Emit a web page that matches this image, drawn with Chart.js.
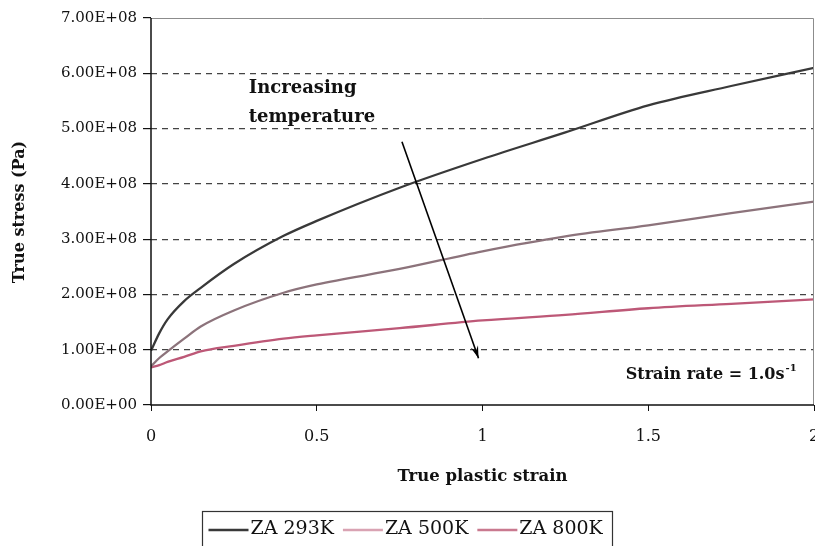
<!DOCTYPE html>
<html>
<head>
<meta charset="utf-8">
<script src="https://cdn.jsdelivr.net/npm/chart.js@4"></script>
<style>
  html, body { margin: 0; padding: 0; background: #fff; }
  canvas { display: block; }
</style>
</head>
<body>
<canvas id="grafico" width="815" height="546"></canvas>
<script>
// ===== DATOS =====
const deformacion = [0, 0.025, 0.05, 0.1, 0.15, 0.25, 0.4, 0.5, 0.75, 1.0, 1.25, 1.5, 1.75, 2.0];

const za293 = [0.98e8, 1.30e8, 1.55e8, 1.88e8, 2.12e8, 2.55e8, 3.06e8, 3.33e8, 3.93e8, 4.45e8, 4.93e8, 5.42e8, 5.77e8, 6.10e8];
const za500 = [0.70e8, 0.85e8, 0.97e8, 1.20e8, 1.42e8, 1.71e8, 2.03e8, 2.18e8, 2.46e8, 2.78e8, 3.05e8, 3.25e8, 3.47e8, 3.68e8];
const za800 = [0.68e8, 0.72e8, 0.78e8, 0.87e8, 0.97e8, 1.07e8, 1.20e8, 1.26e8, 1.39e8, 1.53e8, 1.63e8, 1.75e8, 1.83e8, 1.91e8];

const etiquetasSerie = ['ZA 293K', 'ZA 500K', 'ZA 800K'];
const coloresSerie = ['#393939', '#8c737b', '#bd5877'];
const coloresLeyenda = ['#393939', '#d9a3b3', '#c9798f'];

const ticksX = [0, 0.5, 1, 1.5, 2];
const ticksY = [0, 1e8, 2e8, 3e8, 4e8, 5e8, 6e8, 7e8];

// flecha "Increasing temperature" (en unidades de datos)
const flechaInicio = { x: 0.757, y: 4.76e8 };
const flechaFin = { x: 0.988, y: 0.845e8 };

const SERIF = '"DejaVu Serif", "Liberation Serif", serif';

// formato 7.00E+08
function formatoCientifico(v) {
    if (v === 0) return '0.00E+00';
    const exp = Math.floor(Math.log10(Math.abs(v)));
    const mant = v / Math.pow(10, exp);
    return mant.toFixed(2) + 'E+' + String(exp).padStart(2, '0');
}

function puntos(valores) {
    return deformacion.map((x, i) => ({ x: x, y: valores[i] }));
}

// ===== PLUGIN: marco, titulos, leyenda y anotaciones =====
const decoracion = {
    id: 'decoracion',
    beforeDraw(chart) {
        const ctx = chart.ctx;
        ctx.save();
        ctx.fillStyle = '#fff';
        ctx.fillRect(0, 0, chart.width, chart.height);
        ctx.restore();
    },
    afterDraw(chart) {
        const ctx = chart.ctx;
        const a = chart.chartArea;
        const sx = chart.scales.x;
        const sy = chart.scales.y;

        ctx.save();
        // marco superior y derecho
        ctx.strokeStyle = '#8c8c8c';
        ctx.lineWidth = 1;
        ctx.beginPath();
        ctx.moveTo(a.left, a.top + 0.5);
        ctx.lineTo(a.right - 0.5, a.top + 0.5);
        ctx.lineTo(a.right - 0.5, a.bottom);
        ctx.stroke();

        // ejes
        ctx.strokeStyle = '#111';
        ctx.lineWidth = 1.5;
        ctx.beginPath();
        ctx.moveTo(a.left, a.top);
        ctx.lineTo(a.left, a.bottom);
        ctx.lineTo(a.right, a.bottom);
        ctx.stroke();

        // titulo eje y
        ctx.fillStyle = '#111';
        ctx.font = 'bold 16px ' + SERIF;
        ctx.textAlign = 'center';
        ctx.textBaseline = 'middle';
        ctx.save();
        ctx.translate(20, 212);
        ctx.rotate(-Math.PI / 2);
        ctx.fillText('True stress (Pa)', 0, 0);
        ctx.restore();

        // titulo eje x
        ctx.font = 'bold 16.5px ' + SERIF;
        ctx.fillText('True plastic strain', (a.left + a.right) / 2, 477);

        // texto de anotaciones
        ctx.font = 'bold 18px ' + SERIF;
        ctx.textAlign = 'left';
        ctx.textBaseline = 'alphabetic';
        ctx.fillText('Increasing', sx.getPixelForValue(0.295), sy.getPixelForValue(5.64e8));
        ctx.fillText('temperature', sx.getPixelForValue(0.295), sy.getPixelForValue(5.12e8));

        ctx.font = 'bold 16px ' + SERIF;
        const txt = 'Strain rate = 1.0s';
        const xTxt = sx.getPixelForValue(1.432);
        const yTxt = sy.getPixelForValue(0.47e8);
        ctx.fillText(txt, xTxt, yTxt);
        const w = ctx.measureText(txt).width;
        ctx.font = 'bold 10px ' + SERIF;
        ctx.fillText('-1', xTxt + w + 1, yTxt - 8);

        // flecha
        const x1 = sx.getPixelForValue(flechaInicio.x), y1 = sy.getPixelForValue(flechaInicio.y);
        const x2 = sx.getPixelForValue(flechaFin.x), y2 = sy.getPixelForValue(flechaFin.y);
        ctx.strokeStyle = '#000';
        ctx.lineWidth = 1.6;
        ctx.beginPath();
        ctx.moveTo(x1, y1);
        ctx.lineTo(x2, y2);
        ctx.stroke();
        const ang = Math.atan2(y2 - y1, x2 - x1);
        const L = 13, ab = 0.3;
        ctx.fillStyle = '#000';
        ctx.beginPath();
        ctx.moveTo(x2, y2);
        ctx.lineTo(x2 - L * Math.cos(ang - ab), y2 - L * Math.sin(ang - ab));
        ctx.lineTo(x2 - L * 0.6 * Math.cos(ang), y2 - L * 0.6 * Math.sin(ang));
        ctx.lineTo(x2 - L * Math.cos(ang + ab), y2 - L * Math.sin(ang + ab));
        ctx.closePath();
        ctx.fill();

        // leyenda con recuadro
        const lx = 202.5, ly = 511.5, lw = 410, lh = 40;
        ctx.strokeStyle = '#333';
        ctx.lineWidth = 1.2;
        ctx.strokeRect(lx, ly, lw, lh);
        ctx.font = '19px ' + SERIF;
        ctx.textBaseline = 'middle';
        ctx.fillStyle = '#111';
        let px = lx + 6;
        const py = 529;
        chart.data.datasets.forEach((ds, i) => {
            ctx.strokeStyle = coloresLeyenda[i];
            ctx.lineWidth = 2.4;
            ctx.beginPath();
            ctx.moveTo(px, py + 1);
            ctx.lineTo(px + 40, py + 1);
            ctx.stroke();
            ctx.fillText(ds.label, px + 42, py);
            px += 42 + ctx.measureText(ds.label).width + 9;
        });
        ctx.restore();
    }
};

// ===== GRAFICO =====
const ctxGrafico = document.getElementById('grafico').getContext('2d');
const grafico = new Chart(ctxGrafico, {
    type: 'line',
    data: {
        datasets: [za293, za500, za800].map((serie, i) => ({
            label: etiquetasSerie[i],
            data: puntos(serie),
            borderColor: coloresSerie[i],
            borderWidth: 2.3,
            pointRadius: 0,
            fill: false,
            cubicInterpolationMode: 'monotone'
        }))
    },
    options: {
        responsive: false,
        animation: false,
        events: [],
        layout: { padding: { top: 18, right: 1, left: 0, bottom: 0 } },
        plugins: {
            legend: { display: false },
            tooltip: { enabled: false }
        },
        scales: {
            x: {
                type: 'linear',
                min: 0,
                max: 2,
                afterBuildTicks: s => { s.ticks = ticksX.map(v => ({ value: v })); },
                afterFit: s => { s.height = 141; s.paddingLeft = 0; s.paddingRight = 0; },
                ticks: {
                    color: '#111',
                    font: { family: SERIF, size: 16 },
                    padding: 16,
                    maxRotation: 0,
                    callback: v => String(v)
                },
                grid: {
                    drawOnChartArea: false,
                    drawTicks: true,
                    tickLength: 6,
                    tickColor: '#111'
                },
                border: { display: false }
            },
            y: {
                min: 0,
                max: 7e8,
                afterBuildTicks: s => { s.ticks = ticksY.map(v => ({ value: v })); },
                afterFit: s => { s.width = 151; s.paddingTop = 0; s.paddingBottom = 0; },
                ticks: {
                    color: '#111',
                    font: { family: SERIF, size: 15 },
                    padding: 6,
                    callback: v => formatoCientifico(v)
                },
                grid: {
                    color: c => (c.tick && (c.tick.value === 0 || c.tick.value === 7e8)) ? 'rgba(0,0,0,0)' : '#444',
                    lineWidth: 1.2,
                    drawTicks: true,
                    tickLength: 8,
                    tickColor: '#111',
                    tickBorderDash: []
                },
                border: { display: false, dash: [6, 5] }
            }
        }
    },
    plugins: [decoracion]
});
</script>
</body>
</html>
